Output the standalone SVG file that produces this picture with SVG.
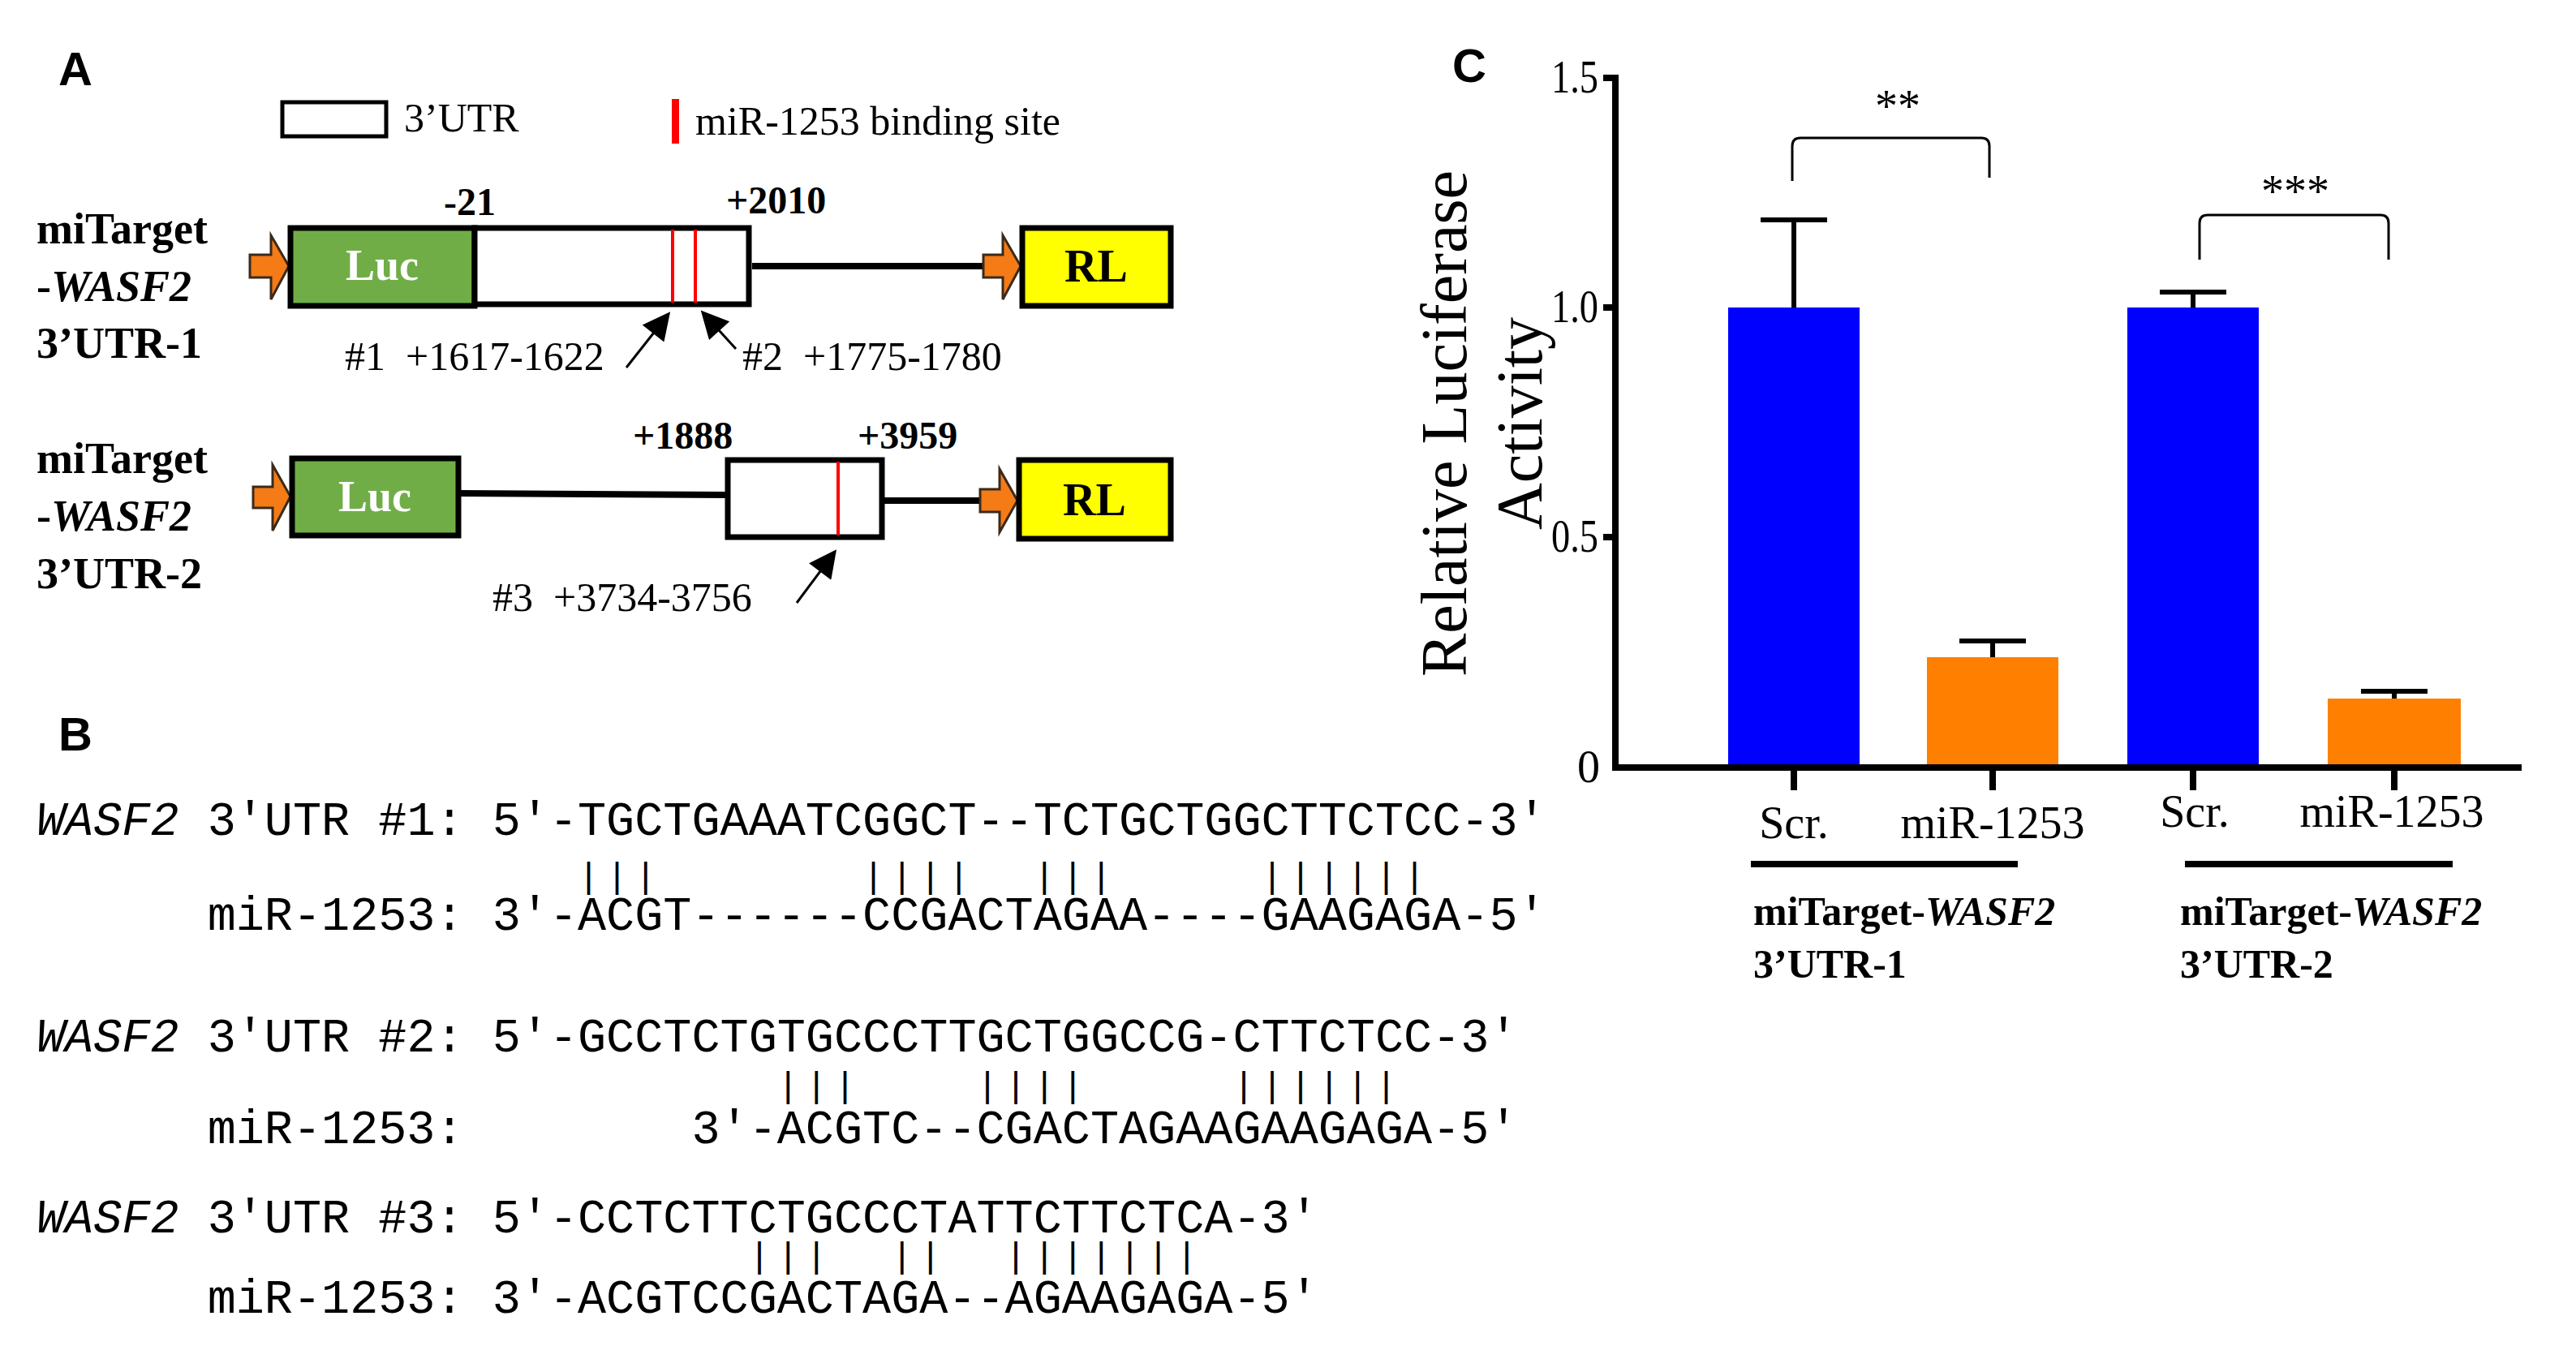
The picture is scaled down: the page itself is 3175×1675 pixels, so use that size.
<svg xmlns="http://www.w3.org/2000/svg" width="3175" height="1675" viewBox="0 0 3175 1675">
<style>
.t{font-family:"Liberation Serif","Times New Roman",serif;fill:#000}
.b{font-weight:bold}
.h{font-family:"Liberation Sans",Arial,sans-serif;font-weight:bold;font-size:58px}
.m{font-family:"Liberation Mono","DejaVu Sans Mono",monospace;font-size:58.5px;fill:#000;white-space:pre}
.p{font-family:"Liberation Mono","DejaVu Sans Mono",monospace;font-size:45px;letter-spacing:8.1px;fill:#000;white-space:pre}
.box{stroke:#000;stroke-width:7}
.oa{fill:#F47B16;stroke:#3a2a1a;stroke-width:3}
.ln{stroke:#000;stroke-width:8;fill:none}
.ar{stroke:#000;stroke-width:3;fill:none}
</style>
<defs>
<marker id="ah2" viewBox="0 0 10 10" refX="9" refY="5" markerWidth="50" markerHeight="34" orient="auto" markerUnits="userSpaceOnUse">
<path d="M0,0 L10,5 L0,10 z" fill="#000"/>
</marker>
</defs>
<rect width="3175" height="1675" fill="#fff"/>

<!-- Panel A -->
<g id="panelA">
<text class="h" x="72" y="105">A</text>
<g id="legend">
<rect x="348" y="126" width="128" height="42" fill="#fff" stroke="#000" stroke-width="5"/>
<text class="t" x="498" y="162" font-size="50">3’UTR</text>
<rect x="828" y="122" width="9" height="55" fill="#f00"/>
<text class="t" x="857" y="166" font-size="50">miR-1253 binding site</text>
</g>
<g id="construct1">
<text class="t b" x="45" y="300" font-size="54">miTarget</text>
<text class="t b" x="45" y="371" font-size="54">-<tspan font-style="italic">WASF2</tspan></text>
<text class="t b" x="45" y="441" font-size="54">3’UTR-1</text>
<text class="t b" x="547" y="265" font-size="48">-21</text>
<text class="t b" x="895" y="263" font-size="48">+2010</text>
<polygon class="oa" points="308,314 334,314 334,290 356,328 334,369 334,342 308,342"/>
<rect class="box" x="358" y="281" width="227" height="96" fill="#70AD47"/>
<text class="t b" x="471" y="345" font-size="54" text-anchor="middle" style="fill:#fff">Luc</text>
<rect class="box" x="585" y="281" width="338" height="94" fill="#fff"/>
<line x1="829" y1="283" x2="829" y2="373" stroke="#f00" stroke-width="4"/>
<line x1="857" y1="283" x2="857" y2="373" stroke="#f00" stroke-width="4"/>
<line class="ln" x1="927" y1="328" x2="1214" y2="328"/>
<polygon class="oa" points="1212,314 1236,314 1236,290 1258,328 1236,369 1236,342 1212,342"/>
<rect class="box" x="1260" y="281" width="183" height="96" fill="#FFFF00"/>
<text class="t b" x="1351" y="347" font-size="56" text-anchor="middle">RL</text>
<text class="t" x="425" y="456" font-size="50" xml:space="preserve">#1  +1617-1622</text>
<line class="ar" x1="772" y1="453" x2="824" y2="387" marker-end="url(#ah2)"/>
<text class="t" x="915" y="456" font-size="50" xml:space="preserve">#2  +1775-1780</text>
<line class="ar" x1="907" y1="430" x2="866" y2="385" marker-end="url(#ah2)"/>
</g>
<g id="construct2">
<text class="t b" x="45" y="583" font-size="54">miTarget</text>
<text class="t b" x="45" y="654" font-size="54">-<tspan font-style="italic">WASF2</tspan></text>
<text class="t b" x="45" y="725" font-size="54">3’UTR-2</text>
<text class="t b" x="780" y="553" font-size="48">+1888</text>
<text class="t b" x="1057" y="553" font-size="48">+3959</text>
<polygon class="oa" points="312,600 336,600 336,573 358,612 336,654 336,626 312,626"/>
<rect class="box" x="360" y="565" width="205" height="95" fill="#70AD47"/>
<text class="t b" x="462" y="630" font-size="54" text-anchor="middle" style="fill:#fff">Luc</text>
<line class="ln" x1="565" y1="608" x2="897" y2="610"/>
<rect class="box" x="897" y="567" width="190" height="95" fill="#fff"/>
<line x1="1033" y1="569" x2="1033" y2="660" stroke="#f00" stroke-width="4"/>
<line class="ln" x1="1087" y1="617" x2="1210" y2="617"/>
<polygon class="oa" points="1208,603 1232,603 1232,578 1254,617 1232,656 1232,631 1208,631"/>
<rect class="box" x="1256" y="567" width="187" height="97" fill="#FFFF00"/>
<text class="t b" x="1349" y="635" font-size="56" text-anchor="middle">RL</text>
<text class="t" x="607" y="753" font-size="50" xml:space="preserve">#3  +3734-3756</text>
<line class="ar" x1="982" y1="743" x2="1029" y2="680" marker-end="url(#ah2)"/>
</g>
</g>

<!-- Panel B -->
<g id="panelB">
<text class="h" x="72" y="925">B</text>
<text class="m" x="45" y="1029" xml:space="preserve"><tspan font-style="italic">WASF2</tspan> 3′UTR #1: 5′-TGCTGAAATCGGCT--TCTGCTGGCTTCTCC-3′</text>
<text class="p" x="45" y="1094" xml:space="preserve">                   |||       ||||  |||     ||||||</text>
<text class="m" x="45" y="1146" xml:space="preserve">      miR-1253: 3′-ACGT------CCGACTAGAA----GAAGAGA-5′</text>
<text class="m" x="45" y="1296" xml:space="preserve"><tspan font-style="italic">WASF2</tspan> 3′UTR #2: 5′-GCCTCTGTGCCCTTGCTGGCCG-CTTCTCC-3′</text>
<text class="p" x="45" y="1352" xml:space="preserve">                          |||    ||||     ||||||</text>
<text class="m" x="45" y="1409" xml:space="preserve">      miR-1253:        3′-ACGTC--CGACTAGAAGAAGAGA-5′</text>
<text class="m" x="45" y="1519" xml:space="preserve"><tspan font-style="italic">WASF2</tspan> 3′UTR #3: 5′-CCTCTTCTGCCCTATTCTTCTCA-3′</text>
<text class="p" x="45" y="1562" xml:space="preserve">                         |||  ||  |||||||</text>
<text class="m" x="45" y="1618" xml:space="preserve">      miR-1253: 3′-ACGTCCGACTAGA--AGAAGAGA-5′</text>
</g>

<!-- Panel C -->
<g id="panelC">
<text class="h" x="1790" y="101">C</text>
<g id="yaxis">
<line class="ln" x1="1991" y1="92" x2="1991" y2="950"/>
<line class="ln" x1="1976" y1="96" x2="1991" y2="96"/>
<line class="ln" x1="1976" y1="379" x2="1991" y2="379"/>
<line class="ln" x1="1976" y1="662" x2="1991" y2="662"/>
<text class="t" x="1912" y="114" font-size="56" textLength="58" lengthAdjust="spacingAndGlyphs">1.5</text>
<text class="t" x="1912" y="397" font-size="56" textLength="58" lengthAdjust="spacingAndGlyphs">1.0</text>
<text class="t" x="1912" y="680" font-size="56" textLength="58" lengthAdjust="spacingAndGlyphs">0.5</text>
<text class="t" x="1972" y="964" font-size="56" text-anchor="end">0</text>
<text class="t" font-size="80" text-anchor="middle" transform="translate(1807,522) rotate(-90)">Relative Luciferase</text>
<text class="t" font-size="80" text-anchor="middle" transform="translate(1900,522) rotate(-90)">Activity</text>
</g>
<g id="bars">
<rect x="2130" y="379" width="162" height="567" fill="#0000FF"/>
<rect x="2375" y="810" width="162" height="136" fill="#FF8000"/>
<rect x="2622" y="379" width="162" height="567" fill="#0000FF"/>
<rect x="2869" y="861" width="164" height="85" fill="#FF8000"/>
</g>
<g id="errorbars" stroke="#000" stroke-width="6">
<line x1="2211" y1="379" x2="2211" y2="271"/><line x1="2170" y1="271" x2="2252" y2="271"/>
<line x1="2456" y1="810" x2="2456" y2="790"/><line x1="2415" y1="790" x2="2497" y2="790"/>
<line x1="2703" y1="379" x2="2703" y2="360"/><line x1="2662" y1="360" x2="2744" y2="360"/>
<line x1="2951" y1="861" x2="2951" y2="852"/><line x1="2910" y1="852" x2="2992" y2="852"/>
</g>
<g id="xaxis">
<line class="ln" x1="1987" y1="946" x2="3108" y2="946"/>
<line class="ln" x1="2211" y1="946" x2="2211" y2="974"/>
<line class="ln" x1="2456" y1="946" x2="2456" y2="974"/>
<line class="ln" x1="2703" y1="946" x2="2703" y2="974"/>
<line class="ln" x1="2951" y1="946" x2="2951" y2="974"/>
<text class="t" x="2211" y="1033" font-size="56" text-anchor="middle">Scr.</text>
<text class="t" x="2456" y="1033" font-size="56" text-anchor="middle">miR-1253</text>
<text class="t" x="2705" y="1019" font-size="56" text-anchor="middle">Scr.</text>
<text class="t" x="2948" y="1019" font-size="56" text-anchor="middle">miR-1253</text>
<line class="ln" x1="2158" y1="1065" x2="2487" y2="1065"/>
<line class="ln" x1="2693" y1="1065" x2="3023" y2="1065"/>
<text class="t b" x="2161" y="1140" font-size="50">miTarget-<tspan font-style="italic">WASF2</tspan></text>
<text class="t b" x="2161" y="1205" font-size="50">3’UTR-1</text>
<text class="t b" x="2687" y="1140" font-size="50">miTarget-<tspan font-style="italic">WASF2</tspan></text>
<text class="t b" x="2687" y="1205" font-size="50">3’UTR-2</text>
</g>
<g id="significance">
<path d="M2209,223 V180 Q2209,170 2219,170 H2442 Q2452,170 2452,180 V219" class="ar"/>
<text class="t" x="2339" y="150" font-size="56" text-anchor="middle">**</text>
<path d="M2711,320 V275 Q2711,265 2721,265 H2934 Q2944,265 2944,275 V320" class="ar"/>
<text class="t" x="2829" y="255" font-size="56" text-anchor="middle">***</text>
</g>
</g>
</svg>
